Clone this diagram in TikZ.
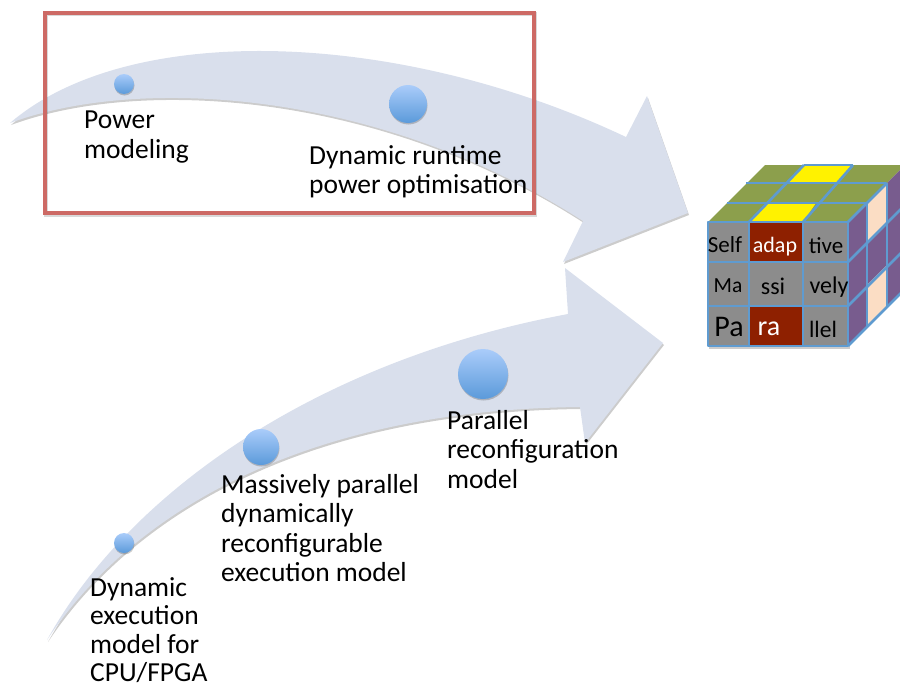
\documentclass[tikz,border=0pt]{standalone}
\usepackage{fontspec}
\setmainfont[Ligatures={Common,Rare}]{Carlito}
\definecolor{arrowfill}{HTML}{D9DFEC}
\definecolor{framered}{HTML}{CD6A65}
\definecolor{cubeline}{HTML}{5F9BD0}
\definecolor{cubegray}{HTML}{8C8C8C}
\definecolor{cubered}{HTML}{8E2000}
\definecolor{cubegreen}{HTML}{8C9F4C}
\definecolor{cubepurple}{HTML}{785C8E}
\definecolor{cubecream}{HTML}{FBDDC4}
\definecolor{dotlow}{HTML}{5B9ADA}
\definecolor{dothigh}{HTML}{AACCFA}
\tikzset{
  x=1pt,y=-1pt,
  arrowshape/.style={fill=arrowfill},
  arrowshade/.style={fill=black,opacity=.2},
  dotshade/.style={fill=black,opacity=.2},
  lbl/.style={inner sep=0pt,anchor=north west,align=left,font=\fontsize{27.5}{29.5}\selectfont,text=black},
  cell/.style={inner sep=0pt,anchor=center,text=black},
  cubeedge/.style={draw=cubeline,line width=2.6pt,line join=round},
}
\begin{document}
\begin{tikzpicture}
\clip (0,0) rectangle (900,688);
\useasboundingbox (0,0) rectangle (900,688);
% arrow outlines
\def\toparrow{(10,123) .. controls (130,20) and (400,30) .. (626,137) -- (647,96) -- (688,213) -- (563,262) -- (583,221) .. controls (380,90) and (140,75) .. (10,123) -- cycle}
\def\lowarrow{(47,640) .. controls (130,490) and (320,360) .. (568,314) -- (565,268) -- (663,343) -- (585,443) -- (580,407) .. controls (300,410) and (130,515) .. (47,640) -- cycle}
\fill[arrowshade,shift={(1,2)}] \toparrow;
\fill[arrowshape] \toparrow;
\fill[arrowshade,shift={(1,2)}] \lowarrow;
\fill[arrowshape] \lowarrow;
% dots
\foreach \cx/\cy/\r in {124/84/10,408/104/19,124/543/10,261/447/18,483/374/25}{
  \fill[dotshade] (\cx+.5,\cy+1.5) circle[radius=\r];
  \shade[top color=dothigh,bottom color=dotlow] (\cx,\cy) circle[radius=\r];
}
% red frame
\draw[black,opacity=.15,line width=4pt] (46,13.5) rectangle (535,214.5);
\draw[framered,line width=4pt] (45,12.5) rectangle (534,213);
% labels
\node[lbl] (power) at (84,111) {Power\\modeling};
\node[lbl] (runtime) at (309,145) {Dynamic runtime\\power optimisation};
\node[lbl] (parallel) at (447,410) {Parallel\\reconfiguration\\model};
\node[lbl] (massive) at (221,474) {Massively parallel\\dynamically\\reconfigurable\\execution model};
\node[lbl,font=\fontsize{27.5}{28.5}\selectfont] (dynamic) at (90,577) {Dynamic\\execution\\model for\\CPU/FPGA};
% cube shadow
\fill[black,opacity=.2] (709,224) rectangle (850,349);
% front face
\fill[cubegray] (708,222) rectangle (848,346);
\fill[cubered] (749,222) rectangle (803,262);
\fill[cubered] (749,306) rectangle (803,346);
% top face
\fill[cubegreen] (708,222) -- (765,165) -- (905,165) -- (848,222) -- cycle;
\fill[yellow] (749,222) -- (768,203) -- (816,203) -- (803,222) -- cycle;
\fill[yellow] (786,183) -- (804,165) -- (853,165) -- (838,183) -- cycle;
% right face
\fill[cubepurple] (848,222) -- (905,165) -- (905,289) -- (848,346) -- cycle;
\fill[cubecream] (867,203) -- (887,183) -- (887,224) -- (867,244) -- cycle;
\fill[cubecream] (867,285) -- (887,265) -- (887,306) -- (867,326) -- cycle;
% grid lines
\draw[cubeedge] (708,222) rectangle (848,346);
\draw[cubeedge] (749,222) -- (749,346) (803,222) -- (803,346);
\draw[cubeedge] (708,262) -- (848,262) (708,306) -- (848,306);
\draw[cubeedge] (727,203) -- (867,203) (746,183) -- (886,183);
\draw[cubeedge] (749,222) -- (804,165) (803,222) -- (853,165);
\draw[cubeedge] (804,165) -- (853,165);
\draw[cubeedge] (848,222) -- (887,183);
\draw[cubeedge] (867,203) -- (867,326) (887,183) -- (887,306);
\draw[cubeedge] (848,262) -- (905,205) (848,306) -- (905,249) (848,346) -- (905,289);
% cube letters
\node[cell,font=\fontsize{23}{23}\selectfont] (c1) at (725,245) {Self};
\node[cell,font=\fontsize{22}{22}\selectfont,text=white] (c2) at (775,247) {adap};
\node[cell,font=\fontsize{23}{23}\selectfont] (c3) at (826,246) {tive};
\node[cell,font=\fontsize{21.5}{21.5}\selectfont] (c4) at (728,286) {Ma};
\node[cell,font=\fontsize{24}{24}\selectfont] (c5) at (773,286) {ssi};
\node[cell,font=\fontsize{24}{24}\selectfont] (c6) at (829,287) {vely};
\node[cell,font=\fontsize{30}{30}\selectfont] (c7) at (729,327) {Pa};
\node[cell,font=\fontsize{28}{28}\selectfont,text=white] (c8) at (769,329) {ra};
\node[cell,font=\fontsize{23.5}{23.5}\selectfont] (c9) at (823,329) {llel};
\end{tikzpicture}
\end{document}
